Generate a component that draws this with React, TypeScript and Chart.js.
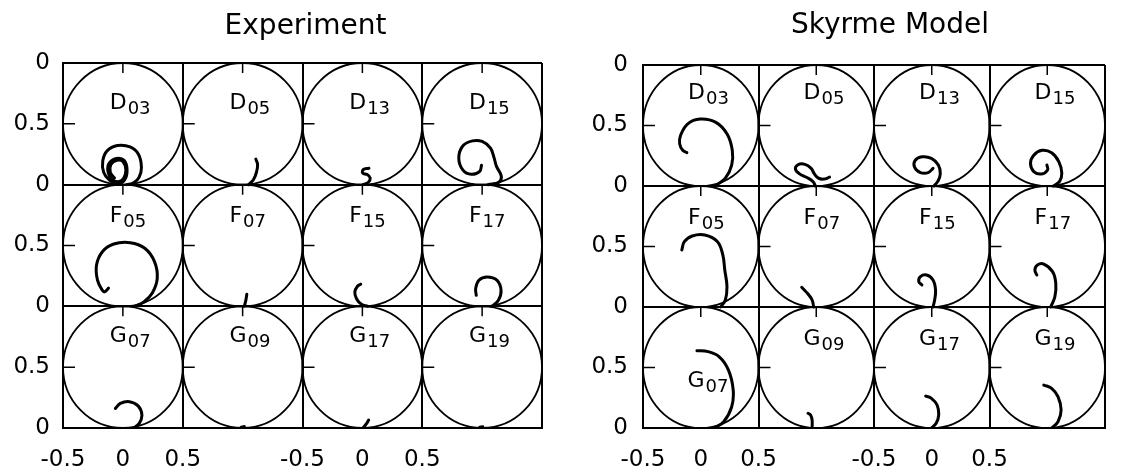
import { useEffect, useRef } from 'react';
import { Chart, registerables } from 'chart.js';

Chart.register(...registerables);

const FONT = '"DejaVu Sans", "Liberation Sans", sans-serif';

// Partial waves, one grid row each (top row first)
const rowD = ['D03', 'D05', 'D13', 'D15'];
const rowF = ['F05', 'F07', 'F15', 'F17'];
const rowG = ['G07', 'G09', 'G17', 'G19'];

// Tick labels for ticks every 0.5 (four circles across, three down)
const xTickLabels = ['-0.5', '0', '0.5', '', '-0.5', '0', '0.5', '', ''];
const yTickLabels = ['0', '0.5', '0', '0.5', '0', '0.5', '0'];

// Experimental amplitudes, points as [Re T, Im T]
const expD03 = [[0.03, 0.0], [0.09, 0.015], [0.135, 0.06], [0.155, 0.14], [0.13, 0.25], [0.06, 0.31], [-0.045, 0.322], [-0.13, 0.28], [-0.168, 0.196], [-0.16, 0.1], [-0.11, 0.035], [-0.045, 0.008], [0.015, 0.04], [0.035, 0.12], [0.01, 0.2], [-0.055, 0.215], [-0.115, 0.175], [-0.125, 0.11], [-0.095, 0.045], [-0.04, 0.025], [0.005, 0.05], [0.025, 0.12], [0.0, 0.19], [-0.05, 0.2], [-0.1, 0.165], [-0.105, 0.1], [-0.07, 0.055]];
const expD05 = [[0.05, 0.0], [0.09, 0.04], [0.115, 0.1], [0.125, 0.165], [0.11, 0.21]];
const expD13 = [[0.005, 0.0], [0.05, 0.02], [0.065, 0.055], [0.04, 0.083], [0.003, 0.095], [0.008, 0.125], [0.055, 0.135]];
const expD15 = [[0.05, 0.0], [0.14, 0.02], [0.16, 0.07], [0.12, 0.15], [0.1, 0.22], [0.07, 0.3], [0.0, 0.355], [-0.08, 0.36], [-0.16, 0.32], [-0.195, 0.22], [-0.16, 0.12], [-0.09, 0.085], [-0.02, 0.11], [-0.005, 0.16]];
const expF05 = [[0.1, 0.0], [0.175, 0.036], [0.246, 0.11], [0.287, 0.229], [0.265, 0.366], [0.183, 0.477], [0.061, 0.523], [-0.076, 0.512], [-0.171, 0.449], [-0.22, 0.339], [-0.212, 0.215], [-0.17, 0.13], [-0.15, 0.12], [-0.12, 0.15]];
const expF07 = [[0.014, 0.0], [0.027, 0.05], [0.035, 0.1]];
const expF15 = [[0.046, 0.0], [-0.008, 0.017], [-0.049, 0.063], [-0.063, 0.118], [-0.041, 0.165], [-0.014, 0.182]];
const expF17 = [[0.082, 0.0], [0.136, 0.05], [0.158, 0.132], [0.123, 0.215], [0.041, 0.242], [-0.027, 0.215], [-0.054, 0.146], [-0.049, 0.091]];
const expG07 = [[0.088, 0.0], [0.137, 0.038], [0.159, 0.107], [0.129, 0.18], [0.055, 0.216], [-0.021, 0.202], [-0.062, 0.161]];
const expG09 = [[-0.012, 0.006], [0.014, 0.012]];
const expG17 = [[0.005, 0.0], [0.033, 0.033], [0.052, 0.066]];
const expG19 = [[-0.02, 0.006], [0.005, 0.01]];

// Skyrme model amplitudes, points as [Re T, Im T]
const skyD03 = [[0.131, 0.005], [0.213, 0.065], [0.268, 0.173], [0.273, 0.295], [0.227, 0.431], [0.131, 0.526], [-0.005, 0.553], [-0.115, 0.512], [-0.175, 0.417], [-0.183, 0.35], [-0.156, 0.295], [-0.12, 0.276]];
const skyD05 = [[-0.008, 0.0], [-0.027, 0.035], [-0.077, 0.068], [-0.145, 0.1], [-0.18, 0.138], [-0.158, 0.176], [-0.098, 0.179], [-0.044, 0.146], [-0.016, 0.1], [0.019, 0.065], [0.066, 0.057], [0.115, 0.073]];
const skyD13 = [[0.019, 0.0], [0.052, 0.038], [0.074, 0.1], [0.057, 0.173], [-0.003, 0.228], [-0.085, 0.241], [-0.145, 0.209], [-0.148, 0.154], [-0.098, 0.111], [-0.03, 0.111], [0.011, 0.146]];
const skyD15 = [[0.052, 0.0], [0.107, 0.038], [0.126, 0.106], [0.101, 0.2], [0.038, 0.274], [-0.044, 0.295], [-0.117, 0.255], [-0.145, 0.187], [-0.117, 0.119], [-0.049, 0.1], [0.003, 0.133], [-0.003, 0.173]];
const skyF05 = [[0.172, 0.0], [0.213, 0.058], [0.227, 0.168], [0.208, 0.306], [0.191, 0.43], [0.145, 0.54], [0.036, 0.595], [-0.074, 0.587], [-0.142, 0.54], [-0.164, 0.471]];
const skyF07 = [[-0.022, 0.0], [-0.036, 0.058], [-0.071, 0.107], [-0.109, 0.146], [-0.126, 0.163]];
const skyF15 = [[0.011, 0.0], [0.025, 0.058], [0.033, 0.14], [0.011, 0.223], [-0.044, 0.264], [-0.098, 0.251], [-0.112, 0.209], [-0.085, 0.182]];
const skyF17 = [[0.03, 0.0], [0.066, 0.085], [0.074, 0.196], [0.046, 0.292], [-0.03, 0.355], [-0.085, 0.347], [-0.107, 0.306], [-0.09, 0.264]];
const skyG07 = [[0.117, 0.0], [0.199, 0.052], [0.268, 0.176], [0.281, 0.314], [0.24, 0.479], [0.158, 0.59], [0.063, 0.631], [-0.033, 0.639]];
const skyG09 = [[-0.036, 0.0], [-0.036, 0.066], [-0.049, 0.107], [-0.071, 0.121]];
const skyG17 = [[-0.003, 0.0], [0.038, 0.039], [0.06, 0.107], [0.046, 0.19], [-0.003, 0.245], [-0.052, 0.264]];
const skyG19 = [[0.038, 0.0], [0.093, 0.052], [0.12, 0.149], [0.093, 0.259], [0.038, 0.328], [-0.03, 0.355]];

const rows = [rowD, rowF, rowG];

const experiment: Record<string, number[][]> = {
  D03: expD03, D05: expD05, D13: expD13, D15: expD15,
  F05: expF05, F07: expF07, F15: expF15, F17: expF17,
  G07: expG07, G09: expG09, G17: expG17, G19: expG19,
};
const skyrme: Record<string, number[][]> = {
  D03: skyD03, D05: skyD05, D13: skyD13, D15: skyD15,
  F05: skyF05, F07: skyF07, F15: skyF15, F17: skyF17,
  G07: skyG07, G09: skyG09, G17: skyG17, G19: skyG19,
};

// Cell (row, col) + local Argand point -> grid coordinates (x 0..4, y 0..3)
const toGrid = (row: number, col: number, p: number[]) => ({ x: col + 0.5 + p[0], y: 2 - row + p[1] });

// Circles, inner tick marks and wave names inside every cell
const argandPlugin = {
  id: 'argand',
  beforeDatasetsDraw(chart: any, _args: any, opts: any) {
    const { ctx } = chart;
    const xs = chart.scales.x;
    const ys = chart.scales.y;
    ctx.save();
    ctx.strokeStyle = '#000';
    ctx.fillStyle = '#000';
    rows.forEach((names, r) => {
      names.forEach((name, c) => {
        const cx = xs.getPixelForValue(c + 0.5);
        const cy = ys.getPixelForValue(2 - r + 0.5);
        const rx = Math.abs(xs.getPixelForValue(c + 1) - cx);
        const ry = Math.abs(ys.getPixelForValue(3 - r) - cy);
        ctx.lineWidth = 1.8;
        ctx.beginPath();
        ctx.ellipse(cx, cy, rx, ry, 0, 0, Math.PI * 2);
        ctx.stroke();

        const top = ys.getPixelForValue(3 - r);
        const left = xs.getPixelForValue(c);
        ctx.lineWidth = 1.5;
        ctx.beginPath();
        ctx.moveTo(cx, top);
        ctx.lineTo(cx, top + 10);
        ctx.moveTo(left, cy);
        ctx.lineTo(left + 12, cy);
        ctx.stroke();

        const place = (opts.labelOverride && opts.labelOverride[name]) || [opts.labelRe, opts.labelIm[r]];
        const lx = xs.getPixelForValue(c + 0.5 + place[0]);
        const ly = ys.getPixelForValue(2 - r + place[1]);
        ctx.textAlign = 'left';
        ctx.textBaseline = 'alphabetic';
        ctx.font = `22px ${FONT}`;
        const letter = name.charAt(0);
        ctx.fillText(letter, lx, ly);
        const w = ctx.measureText(letter).width;
        ctx.font = `18px ${FONT}`;
        ctx.fillText(name.slice(1), lx + w + 1, ly + 5);
      });
    });
    ctx.restore();
  },
};

// Panel heading drawn above the plot area
const headingPlugin = {
  id: 'heading',
  afterDraw(chart: any, _args: any, opts: any) {
    const { ctx, chartArea } = chart;
    ctx.save();
    ctx.fillStyle = '#000';
    ctx.font = `28px ${FONT}`;
    ctx.textAlign = 'center';
    ctx.textBaseline = 'alphabetic';
    ctx.fillText(opts.text, (chartArea.left + chartArea.right) / 2 + opts.dx, opts.baseline);
    ctx.restore();
  },
};

type PanelProps = {
  left: number;
  width: number;
  areaLeft: number;
  areaRight: number;
  areaTop: number;
  areaBottom: number;
  yLabelGap: number;
  title: string;
  titleDx: number;
  titleBaseline: number;
  curves: Record<string, number[][]>;
  labelIm: number[];
  labelOverride?: Record<string, number[]>;
};

function ArgandPanel(p: PanelProps) {
  const ref = useRef<HTMLCanvasElement>(null);

  useEffect(() => {
    if (!ref.current) return;
    const datasets = rows.flatMap((names, r) =>
      names.map((name, c) => ({
        label: name,
        data: p.curves[name].map((pt) => toGrid(r, c, pt)),
        showLine: true,
        borderColor: '#000',
        backgroundColor: '#000',
        borderWidth: 3,
        pointRadius: 0,
        tension: 0.4,
        borderCapStyle: 'round',
        borderJoinStyle: 'round',
        fill: false,
      }))
    );

    const axisFont = { family: FONT, size: 23 };
    const gridColor = (ctx: any) =>
      ctx.tick && Math.abs(ctx.tick.value - Math.round(ctx.tick.value)) < 1e-6 ? '#000' : 'rgba(0,0,0,0)';

    const chart = new Chart(ref.current, {
      type: 'scatter',
      data: { datasets: datasets as any },
      plugins: [argandPlugin, headingPlugin],
      options: {
        responsive: false,
        animation: false,
        layout: {
          padding: { left: 0, top: p.areaTop, right: p.width - p.areaRight, bottom: 0 },
        },
        plugins: {
          legend: { display: false },
          tooltip: { enabled: false },
          argand: { labelRe: -0.11, labelIm: p.labelIm, labelOverride: p.labelOverride },
          heading: { text: p.title, dx: p.titleDx, baseline: p.titleBaseline },
        } as any,
        scales: {
          x: {
            type: 'linear',
            min: 0,
            max: 4,
            ticks: {
              stepSize: 0.5,
              autoSkip: false,
              maxRotation: 0,
              padding: 18,
              color: '#000',
              font: axisFont,
              callback: (_v: any, i: number) => xTickLabels[i] ?? '',
            },
            grid: { drawTicks: false, color: gridColor, lineWidth: 2 },
            border: { display: true, color: '#000', width: 2 },
            afterFit: (s: any) => {
              s.height = 472 - p.areaBottom;
            },
          },
          y: {
            type: 'linear',
            min: 0,
            max: 3,
            ticks: {
              stepSize: 0.5,
              autoSkip: false,
              padding: p.yLabelGap,
              color: '#000',
              font: axisFont,
              callback: (_v: any, i: number) => yTickLabels[i] ?? '',
            },
            grid: { drawTicks: false, color: gridColor, lineWidth: 2 },
            border: { display: true, color: '#000', width: 2 },
            afterFit: (s: any) => {
              s.width = p.areaLeft;
            },
          },
        },
      } as any,
    });
    return () => chart.destroy();
  }, []);

  return (
    <canvas
      ref={ref}
      width={p.width}
      height={472}
      style={{ position: 'absolute', left: p.left, top: 0, width: p.width, height: 472 }}
    />
  );
}

export default function App() {
  return (
    <div style={{ position: 'absolute', left: 0, top: 0, width: 1123, height: 472, overflow: 'hidden', background: '#fff' }}>
      <ArgandPanel
        left={0}
        width={560}
        areaLeft={63}
        areaRight={553}
        areaTop={63}
        areaBottom={428}
        yLabelGap={13}
        title="Experiment"
        titleDx={3}
        titleBaseline={34}
        curves={experiment}
        labelIm={[0.625, 0.69, 0.705]}
      />
      <ArgandPanel
        left={563}
        width={560}
        areaLeft={80}
        areaRight={558.5}
        areaTop={65}
        areaBottom={428}
        yLabelGap={15}
        title="Skyrme Model"
        titleDx={16}
        titleBaseline={33}
        curves={skyrme}
        labelIm={[0.72, 0.69, 0.686]}
        labelOverride={{ G07: [-0.115, 0.34] }}
      />
    </div>
  );
}
